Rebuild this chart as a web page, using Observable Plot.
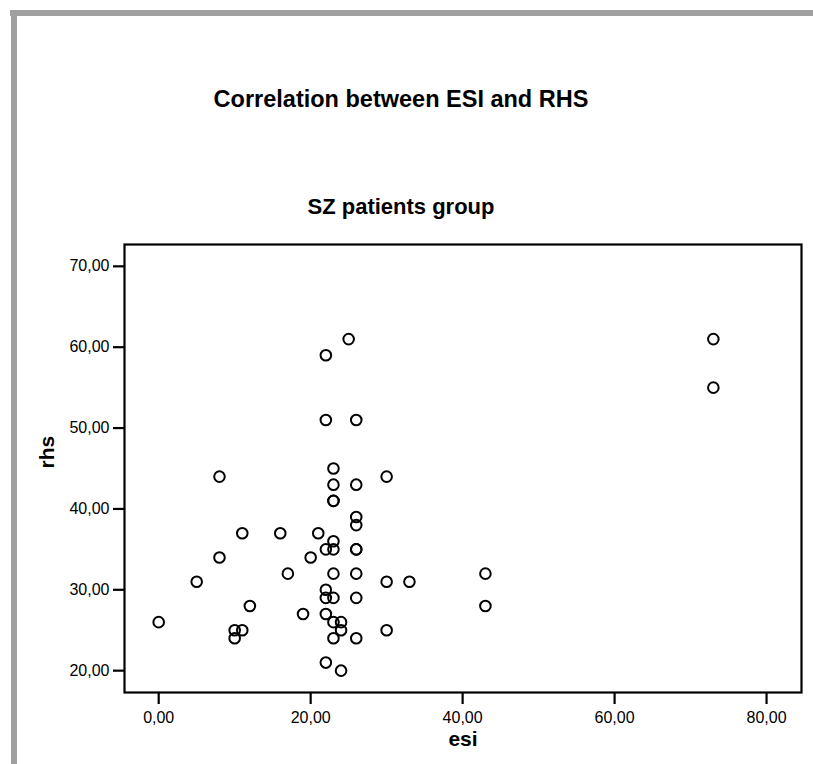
<!DOCTYPE html>
<html>
<head>
<meta charset="utf-8">
<script src="https://cdn.jsdelivr.net/npm/d3@7"></script>
<script src="https://cdn.jsdelivr.net/npm/@observablehq/plot@0.6"></script>
<style>
  html, body { margin: 0; padding: 0; background: #fff; }
  #page { position: relative; width: 813px; height: 764px; overflow: hidden; background: #fff; font-family: "Liberation Sans", Arial, sans-serif; }
  .bar { position: absolute; background: #a0a0a0; }
  .ttl { position: absolute; left: 0; width: 802px; text-align: center; font-weight: bold; color: #000; white-space: nowrap; }
  #chart { position: absolute; left: 0; top: 0; }
</style>
</head>
<body>
<div id="page">
  <div class="bar" style="left:10px; top:10px; width:803px; height:6px;"></div>
  <div class="bar" style="left:11px; top:10px; width:6px; height:754px;"></div>
  <div class="ttl" style="top:88px; font-size:23.5px; line-height:23.5px;">Correlation between ESI and RHS</div>
  <div class="ttl" style="top:196px; font-size:22px; line-height:22px;">SZ patients group</div>
  <div id="chart"></div>
</div>
<script>
// Data
const esi = [0,5,8,8,10,10,11,11,12,16,17,19,20,21,
  22,22,22,22,22,22,22,
  23,23,23,23,23,23,23,23,23,23,
  24,24,24,
  25,
  26,26,26,26,26,26,26,26,26,
  30,30,30,
  33,
  43,43,
  73,73];
const rhs = [26,31,34,44,24,25,25,37,28,37,32,27,34,37,
  59,51,35,30,29,27,21,
  45,43,41,41,36,35,32,29,26,24,
  26,25,20,
  61,
  51,43,39,38,35,35,32,29,24,
  44,31,25,
  31,
  32,28,
  61,55];
const xTicks = [0,20,40,60,80];
const yTicks = [20,30,40,50,60,70];
const xLabel = "esi";
const yLabel = "rhs";

const points = esi.map((e, i) => ({esi: e, rhs: rhs[i]}));
const fmt = d => d.toFixed(2).replace(".", ",");

const chart = Plot.plot({
  width: 813,
  height: 764,
  marginLeft: 124,
  marginRight: 12,
  marginTop: 244,
  marginBottom: 72,
  style: {fontFamily: "'Liberation Sans', Arial, sans-serif", fontSize: "16px", color: "#000", background: "transparent"},
  x: {domain: [-4.5, 84.6]},
  y: {domain: [17.3, 72.7]},
  marks: [
    Plot.axisX({ticks: xTicks, tickFormat: fmt, tickSize: 12, tickPadding: 7, label: null, fontSize: 16, strokeWidth: 2.2}),
    Plot.axisY({ticks: yTicks, tickFormat: fmt, tickSize: 11, tickPadding: 4, label: null, fontSize: 16, strokeWidth: 2.2}),
    Plot.dot(points, {x: "esi", y: "rhs", r: 5.3, stroke: "#000", strokeWidth: 2, fill: "none"}),
    Plot.frame({stroke: "#000", strokeWidth: 2.2}),
    Plot.text([xLabel], {frameAnchor: "bottom", dy: 53, fontSize: 21, fontWeight: "bold", fill: "#000"}),
    Plot.text([yLabel], {frameAnchor: "left", dx: -77, rotate: -90, fontSize: 21, fontWeight: "bold", fill: "#000"})
  ]
});
document.getElementById("chart").appendChild(chart);
</script>
</body>
</html>
